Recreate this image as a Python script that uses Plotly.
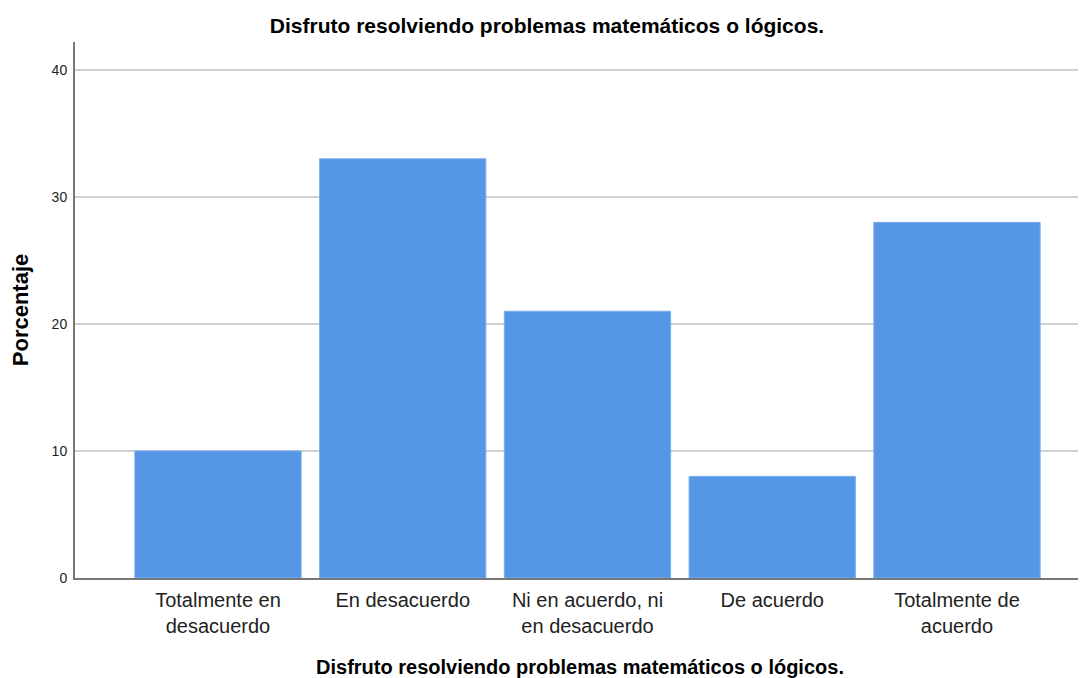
"""Bar chart: Disfruto resolviendo problemas matemáticos o lógicos."""

import plotly.graph_objects as go

categories = [
    "Totalmente en<br>desacuerdo",
    "En desacuerdo",
    "Ni en acuerdo, ni<br>en desacuerdo",
    "De acuerdo",
    "Totalmente de<br>acuerdo",
]
percentages = [10, 33, 21, 8, 28]
y_ticks = [0, 10, 20, 30, 40]

title_text = "Disfruto resolviendo problemas matemáticos o lógicos."
font_family = "Liberation Sans, Arial, sans-serif"

fig = go.Figure(
    go.Bar(
        x=list(range(len(categories))),
        y=percentages,
        width=0.9,
        marker=dict(color="#5596e6", line=dict(color="#7aaceb", width=1)),
        showlegend=False,
    )
)

# the page body keeps an 8px margin, so the figure is a bit smaller than the window
fig.update_layout(
    width=1078,
    height=670,
    margin=dict(l=67, r=1, t=34, b=100),
    paper_bgcolor="white",
    plot_bgcolor="white",
    font=dict(family=font_family, color="#222"),
    title=dict(
        text=f"<b>{title_text}</b>",
        x=0.5,
        xanchor="center",
        y=0.973,
        yanchor="middle",
        font=dict(size=21, color="black"),
    ),
    xaxis=dict(
        range=[-0.774, 4.693],
        tickvals=list(range(len(categories))),
        ticktext=categories,
        tickfont=dict(size=20, color="#222"),
        ticklabelstandoff=3,
        showgrid=False,
        showline=True,
        linecolor="#777",
        linewidth=2,
        ticks="",
        zeroline=False,
        title=dict(
            text=f"<b>{title_text}</b>",
            font=dict(size=20, color="black"),
            standoff=24,
        ),
    ),
    yaxis=dict(
        range=[0, 42.2],
        tickvals=y_ticks,
        tickfont=dict(size=14, color="#222"),
        ticklabelstandoff=3,
        showgrid=True,
        gridcolor="#d0d0d0",
        gridwidth=2,
        showline=True,
        linecolor="#777",
        linewidth=2,
        ticks="",
        zeroline=False,
        title=dict(
            text="<b>Porcentaje</b>",
            font=dict(size=22, color="black"),
            standoff=20,
        ),
    ),
)

fig.write_html("out.html")
